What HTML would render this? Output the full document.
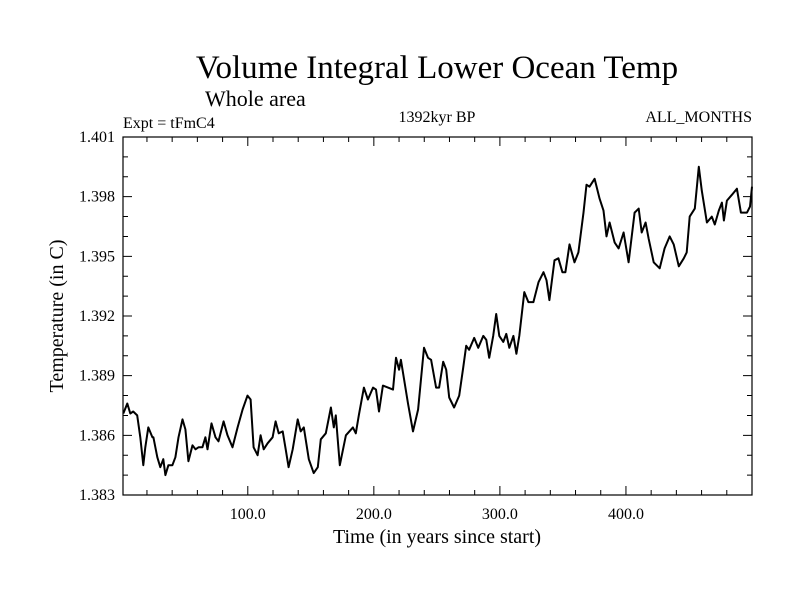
<!DOCTYPE html>
<html><head><meta charset="utf-8"><style>
html,body{margin:0;padding:0;background:#fff;}
svg{display:block;font-family:"Liberation Serif",serif;}
</style></head><body>
<svg id="chart" width="800" height="600" viewBox="0 0 800 600" xmlns="http://www.w3.org/2000/svg">
<rect width="800" height="600" fill="#fff"/>
<text x="437" y="78" font-size="33" text-anchor="middle">Volume Integral Lower Ocean Temp</text>
<text x="205" y="106" font-size="22">Whole area</text>
<text x="123" y="128" font-size="16">Expt = tFmC4</text>
<text x="437" y="122" font-size="16" text-anchor="middle">1392kyr BP</text>
<text x="752" y="122" font-size="16" text-anchor="end">ALL_MONTHS</text>
<text x="437" y="543" font-size="20" text-anchor="middle">Time (in years since start)</text>
<text transform="translate(63,316) rotate(-90)" font-size="20" text-anchor="middle">Temperature (in C)</text>
<g id="axes"></g>
<g id="series"></g>
</svg>
<script>
const years=[1.2,4.4,6.8,9.1,12.3,14.7,17.1,18.7,21.1,24.3,25.1,28.2,30.6,33.0,34.6,37.0,40.2,42.6,45.0,48.2,50.5,52.9,56.1,58.5,60.9,64.0,66.4,68.0,71.2,74.4,76.8,80.8,83.9,87.9,91.9,95.9,99.8,102.2,104.6,107.8,110.2,112.6,115.7,119.7,122.1,124.5,127.7,130.1,132.4,135.6,139.6,142.0,144.4,148.4,152.3,155.5,157.9,161.9,165.9,168.2,169.8,173.0,177.8,183.4,185.7,188.1,192.1,195.3,199.3,201.7,204.1,207.2,211.2,215.2,217.6,220.0,221.5,227.1,231.1,235.1,239.8,243.0,245.4,249.4,251.8,255.0,257.4,259.8,263.7,267.7,270.9,273.3,275.6,279.6,282.8,286.8,289.2,291.5,294.7,297.1,299.5,302.7,305.1,307.5,310.7,313.1,315.4,319.4,322.6,326.6,330.6,334.6,337.0,339.3,343.3,346.4,349.6,352.0,355.2,359.2,362.3,366.3,368.7,371.1,375.1,379.1,382.2,384.6,387.0,391.0,394.2,398.1,402.1,406.9,410.1,412.5,415.6,418.0,422.0,426.8,430.7,434.7,437.9,441.9,445.9,448.2,450.6,454.6,457.8,460.2,464.2,468.1,470.5,473.7,476.1,477.7,480.1,484.1,488.0,491.2,496.0,498.4,500];
const temps=[1.3871,1.3876,1.3871,1.3872,1.3870,1.3859,1.3845,1.3854,1.3864,1.3859,1.3859,1.3849,1.3844,1.3848,1.3840,1.3845,1.3845,1.3849,1.3859,1.3868,1.3863,1.3847,1.3855,1.3853,1.3854,1.3854,1.3859,1.3853,1.3866,1.3859,1.3857,1.3867,1.3860,1.3854,1.3864,1.3873,1.3880,1.3878,1.3854,1.3850,1.3860,1.3853,1.3856,1.3859,1.3867,1.3861,1.3862,1.3853,1.3844,1.3853,1.3868,1.3862,1.3864,1.3848,1.3841,1.3844,1.3858,1.3861,1.3874,1.3864,1.3870,1.3845,1.3860,1.3864,1.3861,1.3870,1.3884,1.3878,1.3884,1.3883,1.3872,1.3885,1.3884,1.3883,1.3899,1.3893,1.3898,1.3876,1.3862,1.3873,1.3904,1.3899,1.3898,1.3884,1.3884,1.3897,1.3893,1.3879,1.3874,1.3880,1.3894,1.3905,1.3903,1.3909,1.3904,1.3910,1.3908,1.3899,1.3910,1.3921,1.3910,1.3907,1.3911,1.3904,1.3910,1.3901,1.3910,1.3932,1.3927,1.3927,1.3937,1.3942,1.3938,1.3928,1.3948,1.3949,1.3942,1.3942,1.3956,1.3947,1.3952,1.3972,1.3986,1.3985,1.3989,1.3979,1.3973,1.3960,1.3967,1.3957,1.3954,1.3962,1.3947,1.3972,1.3974,1.3962,1.3967,1.3959,1.3947,1.3944,1.3954,1.3960,1.3956,1.3945,1.3949,1.3952,1.3970,1.3974,1.3995,1.3983,1.3967,1.3970,1.3966,1.3973,1.3977,1.3968,1.3978,1.3981,1.3984,1.3972,1.3972,1.3975,1.3985];
const xTickValues=[100,200,300,400];
const xTickLabels=["100.0","200.0","300.0","400.0"];
const yTickValues=[1.383,1.386,1.389,1.392,1.395,1.398,1.401];
const yTickLabels=["1.383","1.386","1.389","1.392","1.395","1.398","1.401"];

const L=123,R=752,T=137,B=495, X0=1,X1=500, Y0=1.383,Y1=1.401;
const sx=v=>L+(v-X0)/(X1-X0)*(R-L);
const sy=v=>B-(v-Y0)/(Y1-Y0)*(B-T);
const NS="http://www.w3.org/2000/svg";
const axes=document.getElementById('axes');
function mk(tag,attrs,parent){const e=document.createElementNS(NS,tag);for(const k in attrs)e.setAttribute(k,attrs[k]);parent.appendChild(e);return e;}
const frame=mk('rect',{x:L,y:T,width:R-L,height:B-T,fill:'none',stroke:'#000','stroke-width':1.2},axes);


let d='';
for(let v=20;v<X1;v+=20){const x=sx(v);const len=(v%100===0)?9:5;d+=`M${x},${B}v${-len}M${x},${T}v${len}`;}
for(let i=0;i<=18;i++){const v=Y0+i*0.001;const y=sy(v);const len=(i%3===0)?9:5;d+=`M${L},${y}h${len}M${R},${y}h${-len}`;}
const ticks=mk('path',{d:d,stroke:'#000','stroke-width':1,fill:'none'},axes);


xTickValues.forEach((v,i)=>{const t=mk('text',{x:sx(v),y:B+24,'font-size':16,'text-anchor':'middle'},axes);t.textContent=xTickLabels[i];

});
yTickValues.forEach((v,i)=>{const t=mk('text',{x:L-8,y:sy(v)+5,'font-size':16,'text-anchor':'end'},axes);t.textContent=yTickLabels[i];

});
const pts=years.map((v,i)=>sx(v).toFixed(1)+','+sy(temps[i]).toFixed(1)).join(' ');
const line=mk('polyline',{points:pts,fill:'none',stroke:'#000','stroke-width':2,'stroke-linejoin':'round'},document.getElementById('series'));


</script>
</body></html>
